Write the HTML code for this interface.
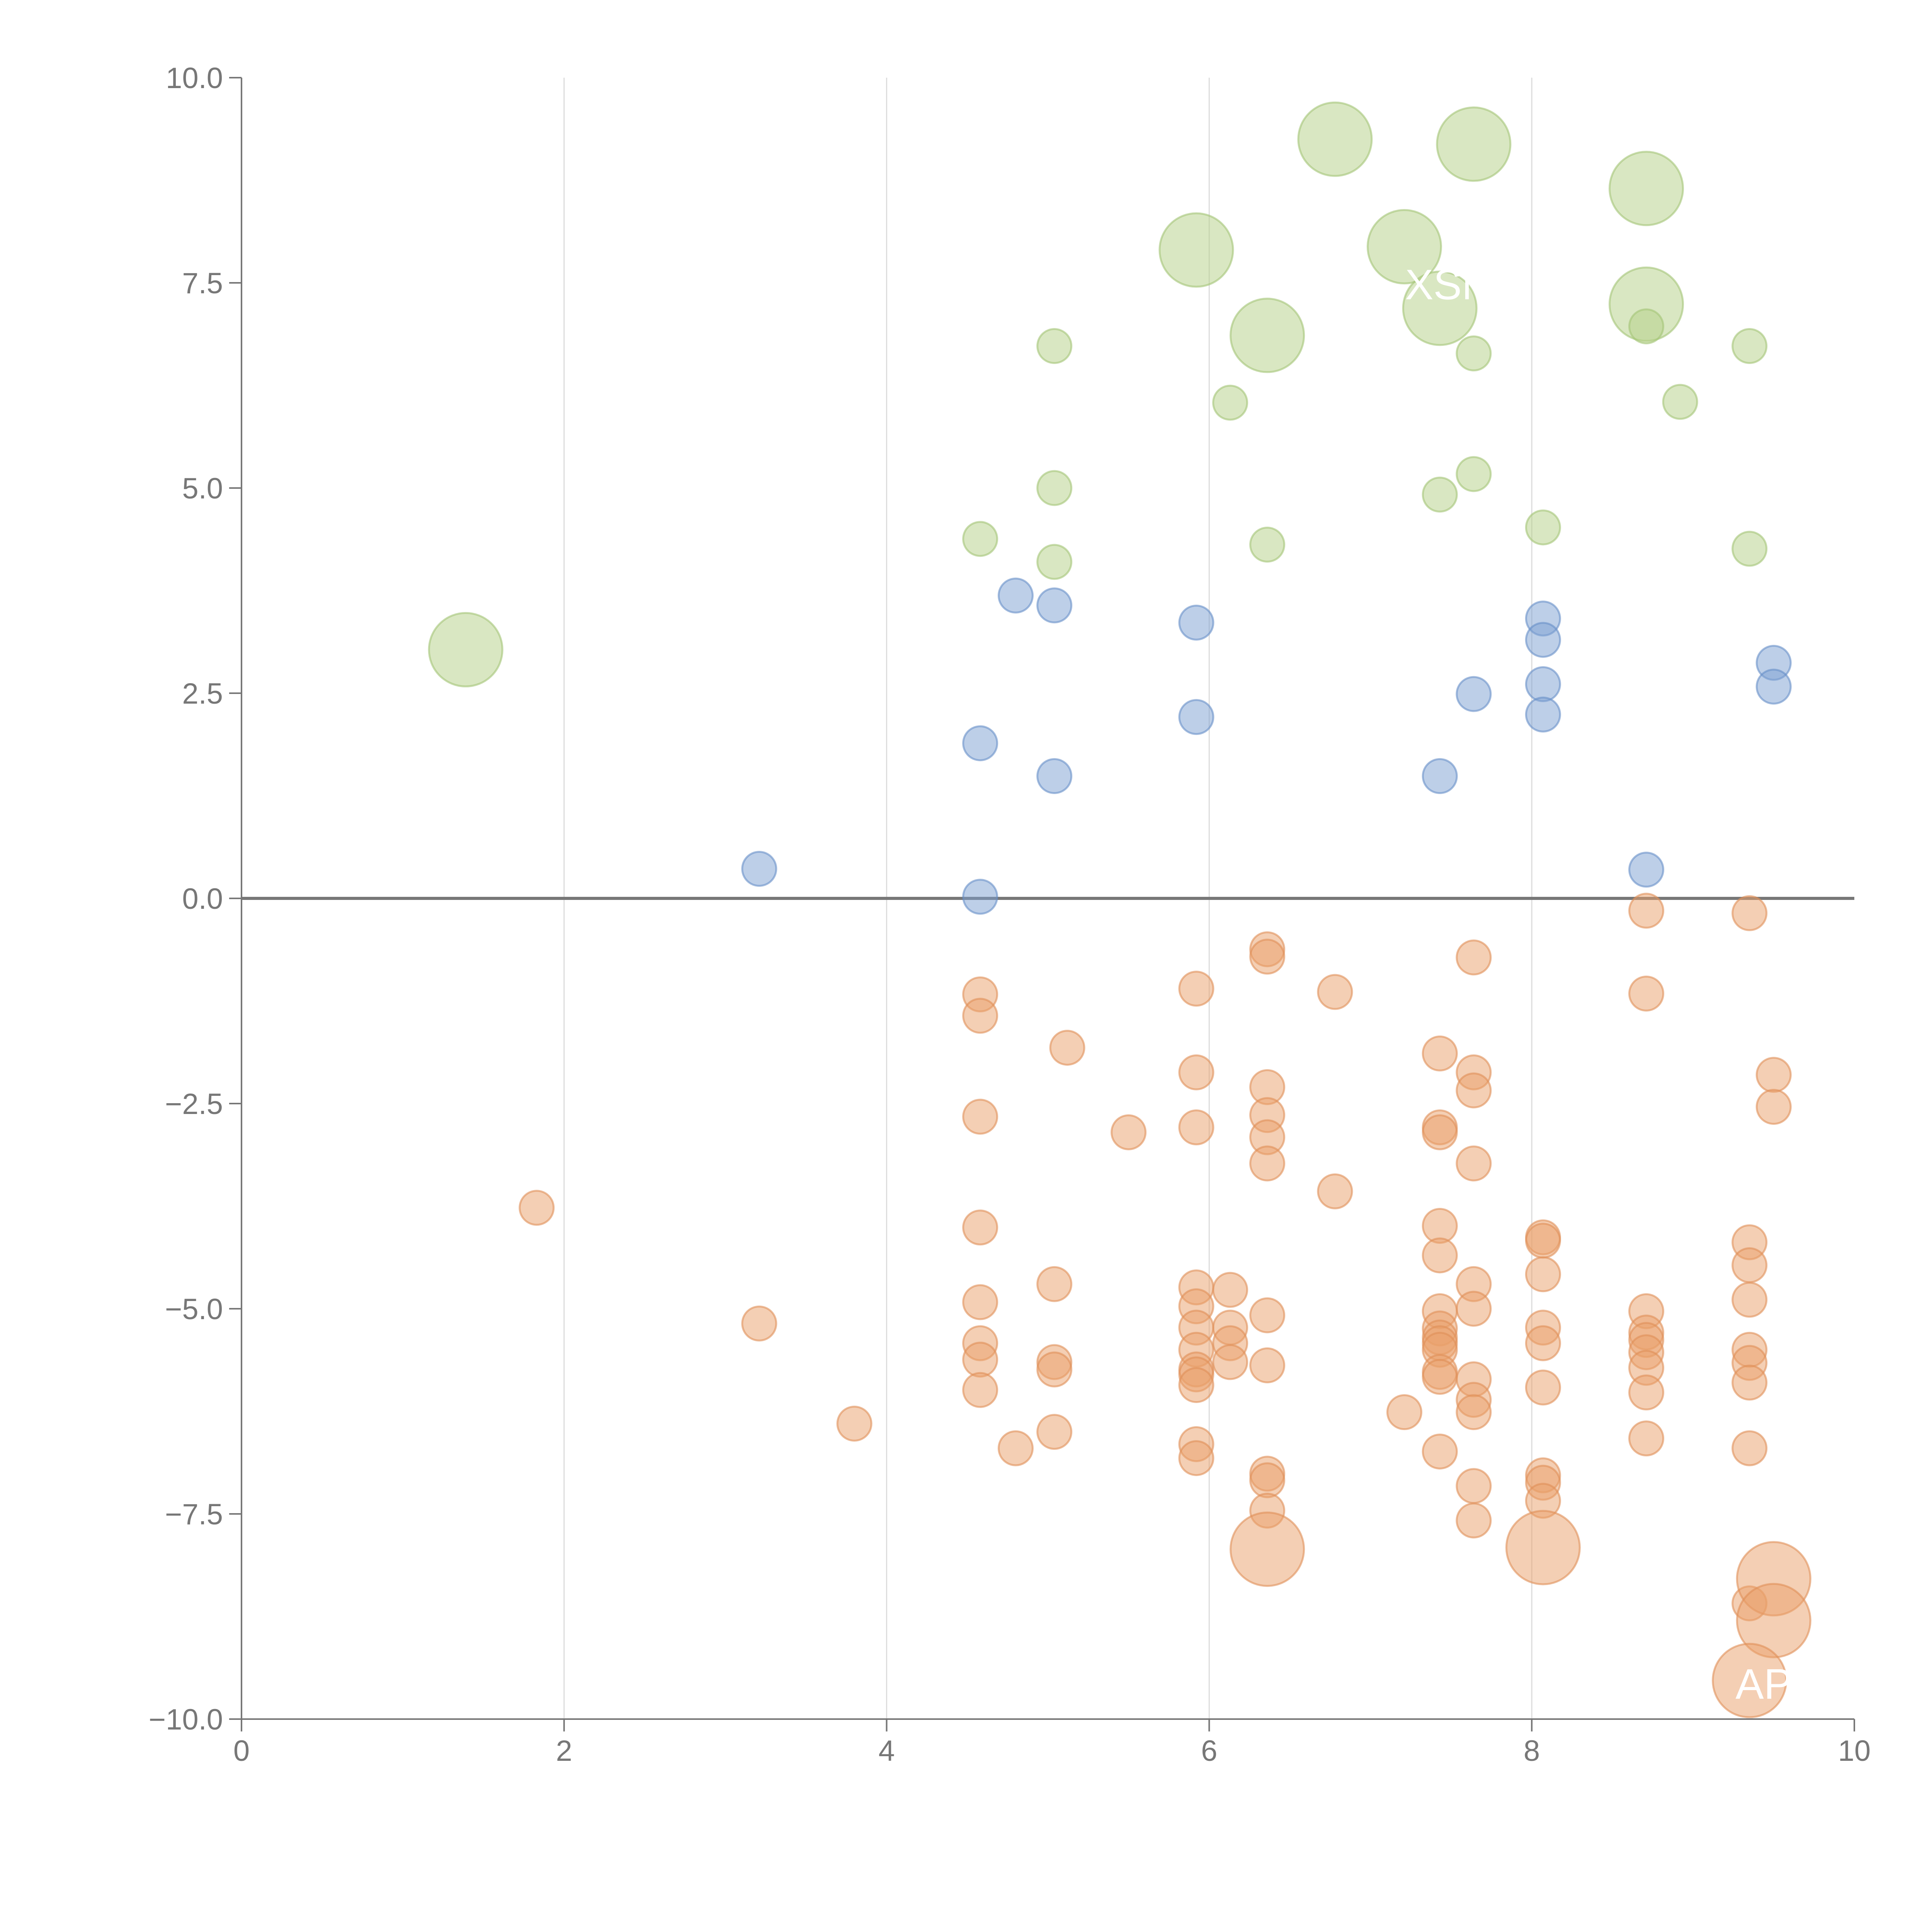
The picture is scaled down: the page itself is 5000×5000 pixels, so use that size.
<!DOCTYPE html>
<html><head><meta charset="utf-8"><style>html,body{margin:0;padding:0;background:#fff}svg{display:block}</style></head>
<body>
<svg id="chart" width="5000" height="5000" viewBox="0 0 5000 5000" xmlns="http://www.w3.org/2000/svg">
<rect width="5000" height="5000" fill="#fff"/>
<g id="grid"></g>
<g id="axes"></g>
<g id="marks"></g>
</svg>
<script>
const xTicks = [0, 2, 4, 6, 8, 10];
const yTicks = [-10, -7.5, -5, -2.5, 0, 2.5, 5, 7.5, 10];
const greenX = [6.78,7.64,8.71,5.92,7.21,7.43,6.36,8.71,1.39,5.04,6.13,7.64,8.71,8.92,9.35,5.04,7.64,7.43,4.58,5.04,6.36,8.07,9.35];
const greenY = [9.25,9.19,8.65,7.90,7.94,7.19,6.86,7.24,3.03,6.73,6.04,6.64,6.97,6.05,6.73,5.0,5.17,4.92,4.38,4.10,4.31,4.52,4.26];
const greenSize = [1,1,1,1,1,1,1,1,1,0,0,0,0,0,0,0,0,0,0,0,0,0,0];
const blueX = [4.80,5.04,5.92,8.07,8.07,9.50,9.50,7.64,8.07,8.07,5.92,4.58,5.04,7.43,3.21,4.58,8.71];
const blueY = [3.69,3.57,3.36,3.41,3.15,2.87,2.58,2.49,2.61,2.24,2.21,1.89,1.49,1.49,0.36,0.02,0.35];
const orangeX = [8.71,9.35,6.36,6.36,7.64,5.92,6.78,8.71,4.58,4.58,5.12,7.43,7.64,5.92,9.50,6.36,7.64,9.50,4.58,6.36,5.92,5.50,7.43,7.43,6.36,6.36,7.64,6.78,1.83,4.58,7.43,8.07,8.07,9.35,7.43,9.35,8.07,5.04,7.64,5.92,6.13,9.35,4.58,5.92,7.64,7.43,8.71,6.36,3.21,6.13,8.07,5.92,7.43,8.71,7.43,8.71,7.43,6.13,4.58,8.07,7.43,5.92,9.35,8.71,5.04,6.13,4.58,9.35,6.36,8.71,5.04,5.92,7.43,7.43,5.92,7.64,9.35,5.92,8.07,4.58,8.71,7.64,7.21,7.64,3.80,5.04,8.71,5.92,9.35,7.43,4.80,5.92,6.36,6.36,8.07,8.07,7.64,8.07,6.36,7.64,9.35,6.36,8.07,9.50,9.50,9.35];
const orangeY = [-0.15,-0.18,-0.62,-0.71,-0.72,-1.10,-1.14,-1.16,-1.17,-1.43,-1.82,-1.89,-2.12,-2.12,-2.15,-2.30,-2.34,-2.54,-2.66,-2.64,-2.79,-2.85,-2.79,-2.85,-2.91,-3.23,-3.23,-3.57,-3.77,-4.01,-3.99,-4.13,-4.17,-4.19,-4.35,-4.47,-4.58,-4.70,-4.70,-4.74,-4.77,-4.89,-4.92,-4.97,-5.0,-5.03,-5.03,-5.08,-5.18,-5.23,-5.23,-5.23,-5.24,-5.29,-5.35,-5.38,-5.42,-5.42,-5.42,-5.42,-5.50,-5.50,-5.50,-5.53,-5.65,-5.65,-5.62,-5.66,-5.69,-5.72,-5.74,-5.74,-5.77,-5.83,-5.80,-5.86,-5.90,-5.93,-5.96,-5.99,-6.02,-6.11,-6.26,-6.26,-6.40,-6.50,-6.58,-6.65,-6.70,-6.74,-6.70,-6.82,-7.01,-7.09,-7.03,-7.12,-7.16,-7.34,-7.46,-7.58,-8.59,-7.93,-7.91,-8.29,-8.80,-9.53];
const orangeSize = orangeY.map((v,i)=> i>=101 ? 1 : 0);

const NS = "http://www.w3.org/2000/svg";
const L = 625, R = 4799, T = 201, B = 4449;
const xs = v => L + (v - 0) / 10 * (R - L);
const ys = v => B - (v + 10) / 20 * (B - T);
function mk(tag, attrs, parent) {
  const e = document.createElementNS(NS, tag);
  for (const k in attrs) e.setAttribute(k, attrs[k]);
  parent.appendChild(e);
  return e;
}
const grid = document.getElementById('grid'), axes = document.getElementById('axes'), marks = document.getElementById('marks');
xTicks.forEach(t => {
  if (t > 0 && t < 10) {
    const g = mk('line', {x1: xs(t), x2: xs(t), y1: T, y2: B, stroke: '#dcdcdc', 'stroke-width': 3}, grid);
    
    
  }
  const tk = mk('line', {x1: xs(t), x2: xs(t), y1: B, y2: B + 32, stroke: '#777', 'stroke-width': 4}, axes);
  
  
  const tx = mk('text', {x: xs(t), y: B + 108, 'text-anchor': 'middle', 'font-family': 'Liberation Sans, sans-serif', 'font-size': 76, fill: '#777'}, axes);
  tx.textContent = String(t);
  
  
});
yTicks.forEach(t => {
  const tk = mk('line', {x1: L - 32, x2: L, y1: ys(t), y2: ys(t), stroke: '#777', 'stroke-width': 4}, axes);
  
  
  const tx = mk('text', {x: L - 48, y: ys(t) + 27, 'text-anchor': 'end', 'font-family': 'Liberation Sans, sans-serif', 'font-size': 76, fill: '#777'}, axes);
  tx.textContent = t.toFixed(1).replace('-', '\u2212');
  
  
});
const ya = mk('line', {x1: L, x2: L, y1: T, y2: B, stroke: '#777', 'stroke-width': 4}, axes);


const xa = mk('line', {x1: L, x2: R, y1: B, y2: B, stroke: '#777', 'stroke-width': 4}, axes);


const zl = mk('line', {x1: L, x2: R, y1: ys(0), y2: ys(0), stroke: '#777', 'stroke-width': 8}, axes);



function drawSeries(X, Y, S, fill, stroke, name) {
  X.forEach((x, i) => {
    const r = (S && S[i]) ? 95 : 44;
    const c = mk('circle', {cx: xs(x), cy: ys(Y[i]), r: r, fill: fill, 'fill-opacity': 0.5, stroke: stroke, 'stroke-opacity': 0.6, 'stroke-width': 5}, marks);
    
    
  });
}
drawSeries(greenX, greenY, greenSize, '#b3cf85', '#a4c477', 'green-bubble');
drawSeries(blueX, blueY, null, '#7b9fd2', '#6890c8', 'blue-bubble');
drawSeries(orangeX, orangeY, orangeSize, '#e9a06a', '#df9058', 'orange-bubble');

const labels = [['XSM', 7.5, 7.3], ['AP', 9.1, 7.0], ['APPL', 9.6, -9.75]];
labels.forEach(l => {
  const t = mk('text', {x: xs(l[1]), y: ys(l[2]), 'text-anchor': 'middle', 'font-family': 'Liberation Sans, sans-serif', 'font-size': 110, fill: '#fff'}, marks);
  t.textContent = l[0];
  
  
});
</script>
</body></html>
